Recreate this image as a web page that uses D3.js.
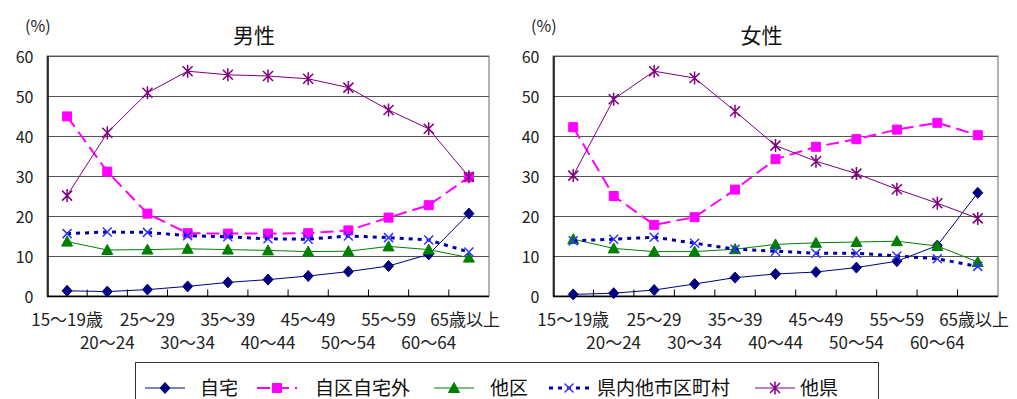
<!DOCTYPE html>
<html lang="ja">
<head>
<meta charset="utf-8">
<script src="https://cdn.jsdelivr.net/npm/d3@7"></script>
<style>
  html, body { margin: 0; padding: 0; background: #fff; }
  svg { display: block; font-family: "Noto Sans CJK JP", "Noto Sans", sans-serif; }
</style>
</head>
<body>
<svg id="chart" width="1017" height="399"></svg>
<script>
// Age groups (x categories)
const ageGroups = ["15〜19歳", "20〜24", "25〜29", "30〜34", "35〜39", "40〜44",
                   "45〜49", "50〜54", "55〜59", "60〜64", "65歳以上"];
const yTicks = [0, 10, 20, 30, 40, 50, 60];
const seriesNames = ["自宅", "自区自宅外", "他区", "県内他市区町村", "他県"];
const panelTitles = ["男性", "女性"];

// 男性 (%)
const maleJitaku   = [1.3, 1.1, 1.6, 2.4, 3.4, 4.1, 5.0, 6.1, 7.5, 10.4, 20.6];
const maleJikuGai  = [44.9, 31.1, 20.6, 15.7, 15.6, 15.6, 15.7, 16.4, 19.6, 22.7, 29.7];
const maleTaku     = [13.6, 11.5, 11.6, 11.8, 11.6, 11.4, 11.1, 11.2, 12.4, 11.6, 9.6];
const maleKennai   = [15.6, 16.0, 15.9, 15.1, 14.8, 14.3, 14.2, 15.0, 14.6, 14.0, 11.0];
const maleTaken    = [25.1, 40.8, 50.8, 56.2, 55.3, 55.0, 54.3, 52.1, 46.5, 41.8, 29.8];

// 女性 (%)
const femaleJitaku  = [0.4, 0.7, 1.5, 3.0, 4.6, 5.5, 6.0, 7.1, 8.7, 12.6, 25.8];
const femaleJikuGai = [42.2, 25.0, 17.8, 19.7, 26.6, 34.2, 37.3, 39.2, 41.6, 43.3, 40.2];
const femaleTaku    = [14.2, 11.9, 11.1, 11.1, 11.7, 12.9, 13.3, 13.5, 13.7, 12.5, 8.5];
const femaleKennai  = [13.8, 14.2, 14.7, 13.2, 11.7, 11.2, 10.7, 10.7, 10.0, 9.3, 7.4];
const femaleTaken   = [30.1, 49.2, 56.2, 54.5, 46.2, 37.6, 33.7, 30.6, 26.7, 23.2, 19.4];

// Visual style of each series (same order as seriesNames)
const styles = [
  { line: "#000080", width: 1,   dash: null,    marker: "diamond",  fill: "#000080", stroke: "#000080" },
  { line: "#FF00FF", width: 2,   dash: "13,6",  marker: "square",   fill: "#FF00FF", stroke: "#FF00FF" },
  { line: "#008000", width: 1,   dash: null,    marker: "triangle", fill: "#008000", stroke: "#008000" },
  { line: "#0000A0", width: 3,   dash: "4,5",   marker: "x",        fill: "none",    stroke: "#3333FF" },
  { line: "#800080", width: 1,   dash: null,    marker: "asterisk", fill: "none",    stroke: "#800080" }
];

const panels = [
  { title: panelTitles[0], data: [maleJitaku, maleJikuGai, maleTaku, maleKennai, maleTaken],
    left: 47, right: 489 },
  { title: panelTitles[1], data: [femaleJitaku, femaleJikuGai, femaleTaku, femaleKennai, femaleTaken],
    left: 553, right: 998 }
];
const plotTop = 56, plotBottom = 296;

const svg = d3.select("#chart");

function markerPath(type) {
  switch (type) {
    case "diamond":  return "M0,-5.5L5,0L0,5.5L-5,0Z";
    case "square":   return "M-4.5,-4.5H4.5V4.5H-4.5Z";
    case "triangle": return "M0,-5.5L5.5,4.5H-5.5Z";
    case "x":        return "M-4.5,-4.5L4.5,4.5M-4.5,4.5L4.5,-4.5";
    case "asterisk": return "M-5,-5L5,5M-5,5L5,-5M0,-6.5V6.5";
  }
}

panels.forEach(p => {
  const g = svg.append("g");
  const x = d3.scaleBand().domain(ageGroups).range([p.left, p.right]);
  const y = d3.scaleLinear().domain([0, 60]).range([plotBottom, plotTop]);
  const cx = d => x(d) + x.bandwidth() / 2;

  // plot area and horizontal gridlines
  g.append("rect")
    .attr("x", p.left).attr("y", plotTop)
    .attr("width", p.right - p.left).attr("height", plotBottom - plotTop)
    .attr("fill", "#fff").attr("stroke", "#666").attr("stroke-width", 1);
  g.selectAll("line.grid").data(yTicks.filter(t => t > 0)).join("line")
    .attr("x1", p.left).attr("x2", p.right)
    .attr("y1", d => y(d) + 0.5).attr("y2", d => y(d) + 0.5)
    .attr("stroke", "#555").attr("stroke-width", 1);

  // y axis
  const yAxis = g.append("g")
    .attr("transform", `translate(${p.left + 0.5},0)`)
    .call(d3.axisLeft(y).tickValues(yTicks).tickSize(0).tickPadding(14));
  yAxis.select(".domain").attr("stroke", "#000").attr("stroke-width", 1.5);
  yAxis.selectAll("text").attr("font-size", 16).attr("fill", "#222")
    .attr("font-family", '"Noto Sans CJK JP", sans-serif').attr("dy", "0.4em");

  // x axis line with inward ticks at category boundaries
  const xAxis = g.append("g").attr("transform", `translate(0,${plotBottom + 0.5})`);
  xAxis.append("line").attr("x1", p.left).attr("x2", p.right)
    .attr("stroke", "#000").attr("stroke-width", 1.5);
  xAxis.selectAll("line.tick").data(ageGroups.slice(1)).join("line")
    .attr("x1", d => x(d)).attr("x2", d => x(d))
    .attr("y1", 0).attr("y2", -7).attr("stroke", "#000");

  // category labels, staggered on two rows
  const labels = g.selectAll("text.cat").data(ageGroups).join("text")
    .attr("class", "cat")
    .attr("text-anchor", "middle")
    .attr("font-size", 17).attr("fill", "#222")
    .attr("y", (d, i) => i % 2 === 0 ? 326 : 349)
    .text(d => d)
    .attr("x", cx);
  labels.each(function (d) {
    const w = this.getComputedTextLength();
    const maxCenter = p.right + 11 - w / 2;
    if (cx(d) > maxCenter) d3.select(this).attr("x", maxCenter);
  });

  // series lines and markers
  p.data.forEach((vals, si) => {
    const st = styles[si];
    const line = d3.line().x((d, i) => cx(ageGroups[i])).y(d => y(d));
    g.append("path").datum(vals)
      .attr("d", line).attr("fill", "none")
      .attr("stroke", st.line).attr("stroke-width", st.width)
      .attr("stroke-dasharray", st.dash);
    g.selectAll(null).data(vals).join("path")
      .attr("transform", (d, i) => `translate(${cx(ageGroups[i])},${y(d)})`)
      .attr("d", markerPath(st.marker))
      .attr("fill", st.fill).attr("stroke", st.stroke)
      .attr("stroke-width", st.fill === "none" ? 1.5 : 1);
  });

  // title and unit
  g.append("text").attr("x", (p.left + p.right) / 2 - 14).attr("y", 43)
    .attr("text-anchor", "middle").attr("font-size", 21).attr("fill", "#111")
    .text(p.title);
  g.append("text").attr("x", p.left - 22).attr("y", 32)
    .attr("font-size", 16).attr("fill", "#222")
    .text("(%)");
});

// legend
const legend = svg.append("g");
legend.append("rect").attr("x", 135.5).attr("y", 362.5).attr("width", 743).attr("height", 45)
  .attr("fill", "#fff").attr("stroke", "#333").attr("stroke-width", 1);
const legendItems = [
  { sx: 145, tx: 200 },
  { sx: 257, tx: 315 },
  { sx: 434, tx: 490 },
  { sx: 549, tx: 597 },
  { sx: 755, tx: 800 }
];
const legendY = 388;
seriesNames.forEach((name, i) => {
  const st = styles[i];
  const it = legendItems[i];
  const lg = legend.append("g");
  lg.append("line").attr("x1", it.sx).attr("x2", it.sx + 40)
    .attr("y1", legendY).attr("y2", legendY)
    .attr("stroke", st.line).attr("stroke-width", st.width)
    .attr("stroke-dasharray", st.dash);
  lg.append("path").attr("transform", `translate(${it.sx + 20},${legendY})`)
    .attr("d", markerPath(st.marker))
    .attr("fill", st.fill).attr("stroke", st.stroke)
    .attr("stroke-width", st.fill === "none" ? 1.5 : 1);
  lg.append("text").attr("x", it.tx).attr("y", legendY + 7)
    .attr("font-size", 19).attr("fill", "#111").text(name);
});
</script>
</body>
</html>
